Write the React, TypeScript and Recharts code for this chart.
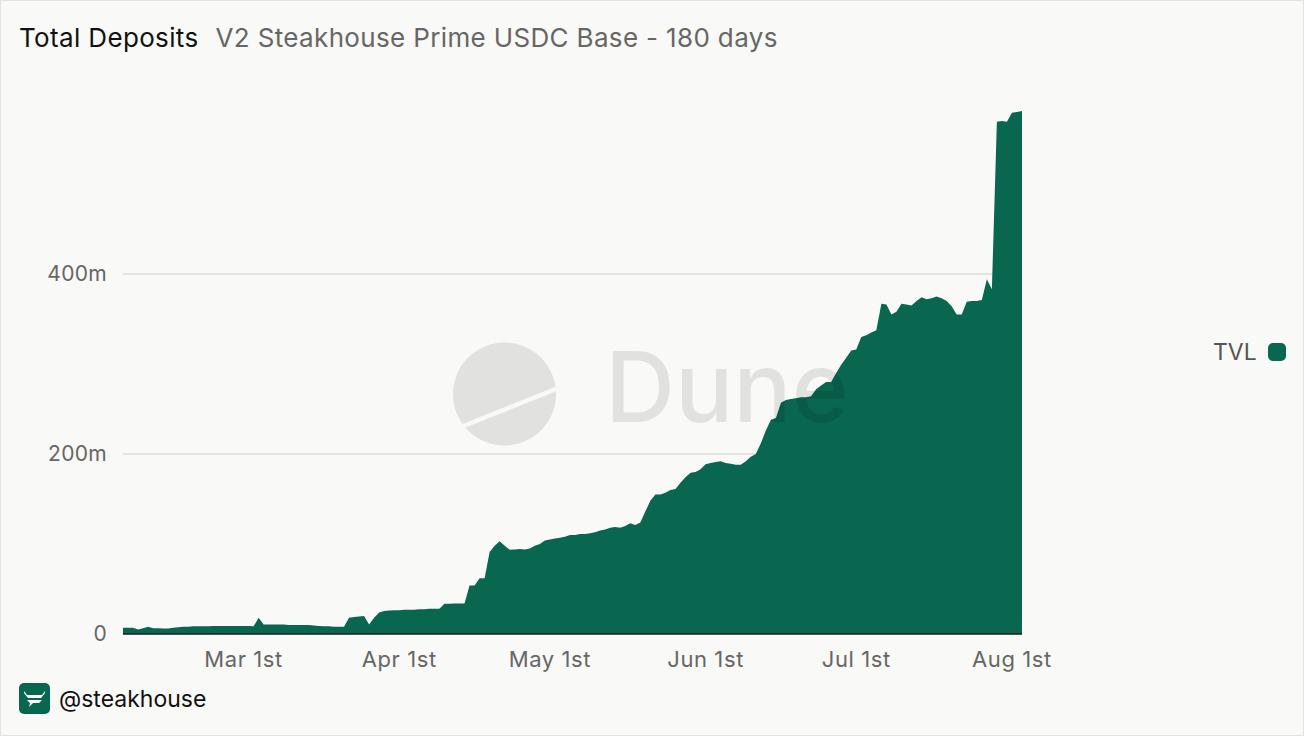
import { AreaChart, Area, XAxis, YAxis, CartesianGrid } from "recharts";

// TVL in millions USD, one value per day, 2025-02-05 .. 2025-08-03
const febValues = [7, 7, 7, 5, 6.5, 8, 6.5, 6.5, 6, 6, 7, 7.5, 8, 8, 8.5, 8.5, 8.5, 8.5, 9, 9, 9, 9, 9, 9];
const marValues = [
  9, 9, 8.5, 18, 10.5, 10.5, 10.5, 10.5, 10.5, 10, 10, 10, 10, 10, 9.5, 9, 8.5, 8.5, 8, 8, 8, 18, 19, 19.5, 20,
  10.5, 18, 24, 25.5, 26, 26.5,
];
const aprValues = [
  26.5, 27, 27, 27, 27.5, 27.5, 28, 28, 28, 33.5, 33.5, 34, 34, 34, 54, 54, 62, 62, 91, 98, 103, 98, 93.5, 94,
  94.5, 94, 95, 98, 100, 104,
];
const mayValues = [
  105, 106, 107, 108, 110, 110, 111, 111, 112, 113, 115, 116, 118, 119, 118, 120, 123, 121, 124, 136, 148, 155,
  155, 157, 160, 161, 168, 174, 179, 180, 183,
];
const junValues = [
  188.5, 190, 191, 192, 190, 189, 188, 188, 192, 197, 200, 212, 226, 238, 240, 257, 260, 261, 262, 263, 263, 264,
  272, 276, 280, 280, 290, 299, 307, 315,
];
const julValues = [
  316, 330, 332, 335, 337.5, 367, 366, 355, 358, 367, 366, 365, 370, 374, 372, 373, 375, 373, 370, 364, 355, 355,
  369, 370, 370, 371, 394, 383, 569, 570, 569,
];
const augValues = [579, 580, 581];

const START_DATE = "2025-02-05";
const tickDates = ["2025-03-01", "2025-04-01", "2025-05-01", "2025-06-01", "2025-07-01", "2025-08-01"];
const tickLabels = ["Mar 1st", "Apr 1st", "May 1st", "Jun 1st", "Jul 1st", "Aug 1st"];
const yTicks = [0, 200, 400];
const gridValues = [200, 400];

const GREEN = "#09664f";
const FONT = "Inter, 'Noto Sans', sans-serif";

const tvl = [...febValues, ...marValues, ...aprValues, ...mayValues, ...junValues, ...julValues, ...augValues];

const data = tvl.map((v, i) => {
  const d = new Date(START_DATE + "T00:00:00Z");
  d.setUTCDate(d.getUTCDate() + i);
  return { date: d.toISOString().slice(0, 10), TVL: v };
});

function Watermark() {
  return (
    <svg width={1304} height={736} style={{ position: "absolute", left: 0, top: 0, pointerEvents: "none" }}>
      <defs>
        <mask id="duneMask">
          <circle cx={503.5} cy={393} r={51.5} fill="#fff" />
          <line x1={440} y1={434} x2={570} y2={382} stroke="#000" strokeWidth={4.5} />
        </mask>
      </defs>
      <g fill="#000" fillOpacity={0.095}>
        <rect x={440} y={330} width={130} height={130} mask="url(#duneMask)" />
        <text x={604} y={421} fontFamily={FONT} fontSize={97} fontWeight={500}>
          Dune
        </text>
      </g>
    </svg>
  );
}

function SteakLogo() {
  return (
    <svg width={31} height={31} viewBox="0 0 31 31">
      <rect x={0} y={0} width={31} height={31} rx={5} fill={GREEN} />
      <path d="M5 8 L8 12 L23 12 L26 8 L26 10 L22 15 L9 15 L5 10 Z" fill="#fff" />
      <path d="M8 17 L23 17 L20 20 L14 20 L10 24 L11 20 Z" fill="#fff" />
    </svg>
  );
}

export default function App() {
  return (
    <div
      style={{
        position: "relative",
        width: 1304,
        height: 736,
        background: "#f9f9f7",
        boxSizing: "border-box",
        border: "1px solid #e2e2e0",
        fontFamily: FONT,
        overflow: "hidden",
      }}
    >
      <style>{"body{margin:0}"}</style>
      <div
        style={{ position: "absolute", left: 18, top: 21, fontSize: 26, letterSpacing: 0.35, whiteSpace: "nowrap" }}
      >
        <span style={{ color: "#111" }}>Total Deposits</span>
        <span style={{ color: "#666", marginLeft: 17 }}>V2 Steakhouse Prime USDC Base - 180 days</span>
      </div>

      <div style={{ position: "absolute", left: 0, top: 0 }}>
        <AreaChart width={1304} height={736} data={data} margin={{ top: 110, right: 283, bottom: 63, left: 0 }}>
          <CartesianGrid vertical={false} horizontalValues={gridValues} stroke="#e3e3e1" strokeWidth={2} />
          <XAxis
            dataKey="date"
            ticks={tickDates}
            interval={0}
            tickFormatter={(v) => tickLabels[tickDates.indexOf(v)] ?? ""}
            tick={{ fontSize: 22, fill: "#666", fontFamily: FONT, letterSpacing: 0.6 }}
            tickLine={false}
            tickSize={0}
            tickMargin={17}
            axisLine={{ stroke: "#1a1a1a", strokeWidth: 1.5 }}
            height={40}
          />
          <YAxis
            type="number"
            domain={[0, 581]}
            ticks={yTicks}
            tickFormatter={(v) => (v === 0 ? "0" : `${v}m`)}
            tick={{ fontSize: 21, fill: "#666", fontFamily: FONT, letterSpacing: 0.3 }}
            tickLine={false}
            tickSize={0}
            tickMargin={16}
            axisLine={false}
            width={122}
          />
          <Area
            type="linear"
            dataKey="TVL"
            stroke="none"
            fill={GREEN}
            fillOpacity={1}
            isAnimationActive={false}
            dot={false}
            activeDot={false}
          />
        </AreaChart>
      </div>

      <Watermark />

      <div
        style={{
          position: "absolute",
          left: 1212,
          top: 337,
          display: "flex",
          alignItems: "center",
          fontSize: 23,
          color: "#555",
        }}
      >
        <span>TVL</span>
        <span
          style={{ display: "inline-block", width: 18, height: 18, borderRadius: 5, background: GREEN, marginLeft: 11 }}
        />
      </div>

      <div style={{ position: "absolute", left: 18, top: 682, display: "flex", alignItems: "center" }}>
        <SteakLogo />
        <span style={{ marginLeft: 9, fontSize: 23, color: "#111" }}>@steakhouse</span>
      </div>
    </div>
  );
}
